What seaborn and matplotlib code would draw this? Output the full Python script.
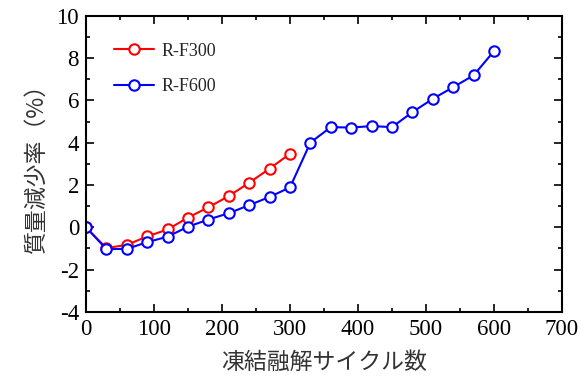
import numpy as np
import pandas as pd
import matplotlib
matplotlib.use("Agg")
import matplotlib.pyplot as plt
from matplotlib.ticker import MultipleLocator
import seaborn as sns

cycles_300 = [0, 30, 60, 90, 120, 150, 180, 210, 240, 270, 300]
loss_300 = [0.0, -0.98, -0.83, -0.43, -0.10, 0.46, 0.95, 1.48, 2.11, 2.78, 3.48]
cycles_600 = [0, 30, 60, 90, 120, 150, 180, 210, 240, 270, 300,
              330, 360, 390, 420, 450, 480, 510, 540, 570, 600]
loss_600 = [0.0, -1.03, -1.02, -0.70, -0.44, 0.03, 0.37, 0.67, 1.05, 1.44, 1.89,
            4.01, 4.74, 4.72, 4.79, 4.74, 5.45, 6.08, 6.63, 7.19, 8.34]
series_names = ["R-F300", "R-F600"]
xlabel = "凍結融解サイクル数"
ylabel = "質量減少率（%）"

df = pd.concat([
    pd.DataFrame({"x": cycles_300, "y": loss_300, "s": series_names[0]}),
    pd.DataFrame({"x": cycles_600, "y": loss_600, "s": series_names[1]}),
])

sns.set_style("ticks")
plt.rcParams["font.family"] = ["Liberation Serif", "Noto Sans CJK JP"]
plt.rcParams["axes.unicode_minus"] = False

fig = plt.figure(figsize=(5.87, 3.79), dpi=100)
ax = fig.add_axes([0.1465, 0.177, 0.9575 - 0.1465, 0.958 - 0.177])

sns.lineplot(data=df, x="x", y="y", hue="s", palette=["#ff0000", "#0000ff"],
             marker="o", markersize=7.5, markerfacecolor="white",
             markeredgewidth=1.5, linewidth=1.5, sort=False, ax=ax)
for line in ax.lines:
    line.set_markeredgecolor(line.get_color())

ax.set_xlim(0, 700)
ax.set_ylim(-4, 10)
ax.xaxis.set_major_locator(MultipleLocator(100))
ax.xaxis.set_minor_locator(MultipleLocator(50))
ax.yaxis.set_major_locator(MultipleLocator(2))
ax.yaxis.set_minor_locator(MultipleLocator(1))
ax.tick_params(which="both", direction="in", top=True, right=True,
               labelsize=16.5, width=1.2, colors="black")
ax.tick_params(which="major", length=6, pad=5)
ax.tick_params(which="minor", length=3)
for sp in ax.spines.values():
    sp.set_linewidth(1.5)
    sp.set_color("black")

ax.set_xlabel(xlabel, fontsize=16.5, family=["Noto Sans CJK JP"], color="#333333", labelpad=8)
ax.set_ylabel(ylabel, fontsize=16.5, family=["Noto Sans CJK JP"], color="#333333", labelpad=6)

handles, labels = ax.get_legend_handles_labels()
leg = ax.legend(handles, labels, loc="upper left", frameon=False, fontsize=13,
                bbox_to_anchor=(0.025, 0.965), handlelength=2.2, labelspacing=1.05,
                handletextpad=0.4)

fig.savefig("out.png", dpi=100)
